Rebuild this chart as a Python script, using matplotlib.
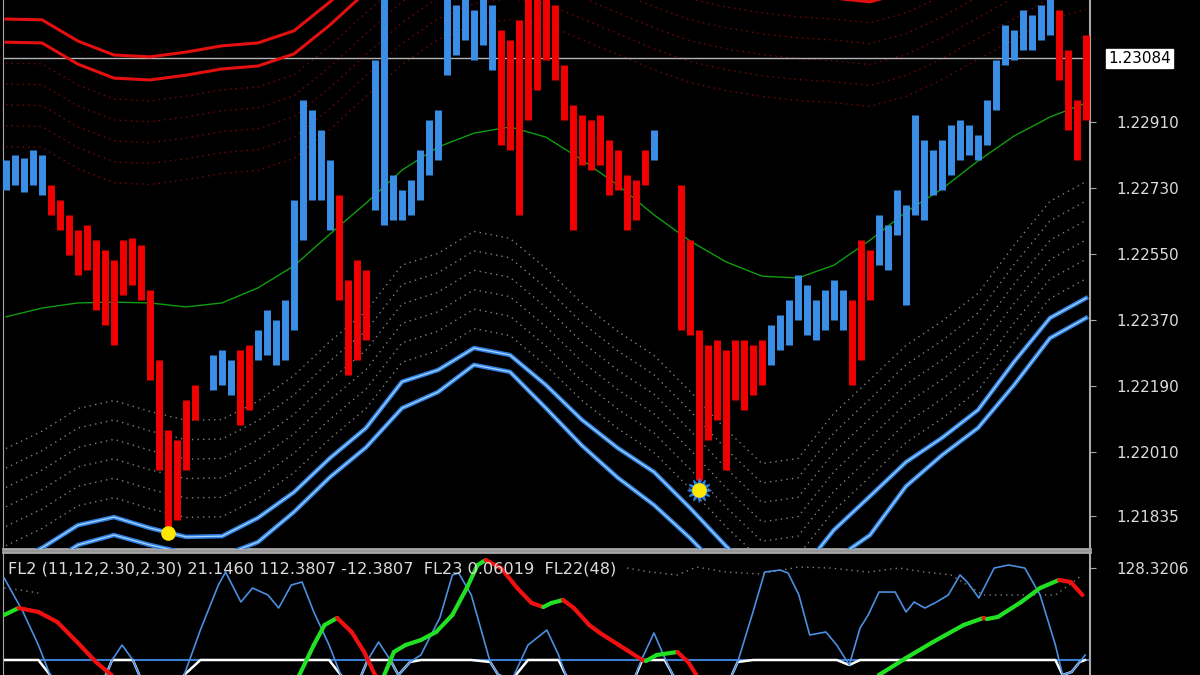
import matplotlib
matplotlib.use("Agg")
import matplotlib.pyplot as plt
import matplotlib.transforms as mtransforms
import numpy as np
from matplotlib.collections import LineCollection

nan = float("nan")

# price bars (bar index 0..120), nan = no bar
bar_high = [
    1.22807, 1.22820, 1.22812, 1.22834, 1.22820,
    1.22738, 1.22698, 1.22657, 1.22616, 1.22629, 1.22588, 1.22561, 1.22534, 1.22588, 1.22594,
    1.22575, 1.22452, 1.22261, 1.22070, 1.22043, 1.22152, 1.22193, nan,
    1.22275, 1.22289, 1.22261, 1.22289, 1.22302,
    1.22343, 1.22398, 1.22370, 1.22425, 1.22698, 1.22970, 1.22943, 1.22888, 1.22807,
    1.22711, 1.22479, 1.22534, 1.22507,
    1.23079, 1.23260, 1.22766, 1.22725, 1.22752, 1.22834, 1.22916, 1.22943, 1.23260, 1.23229,
    1.23260, 1.23216, 1.23260, 1.23229,
    1.23161, 1.23134, 1.23188, 1.23260, 1.23260, 1.23260, 1.23229, 1.23066, 1.22957, 1.22929,
    1.22916, 1.22929, 1.22861, 1.22834, 1.22766, 1.22752, 1.22834,
    1.22888, nan, nan,
    1.22738, 1.22588, 1.22343, 1.22302, 1.22316, 1.22289, 1.22316, 1.22316, 1.22302, 1.22316,
    1.22357, 1.22384, 1.22425, 1.22493, 1.22466, 1.22425, 1.22452, 1.22479, 1.22452,
    1.22425, 1.22588, 1.22561,
    1.22657, 1.22629, 1.22725, 1.22684, 1.22929, 1.22861, 1.22834, 1.22861, 1.22902, 1.22916,
    1.22902, 1.22875, 1.22970, 1.23079, 1.23175, 1.23161, 1.23216, 1.23202, 1.23229, 1.23260,
    1.23216, 1.23107, 1.22970, 1.23148,
]
bar_low = [
    1.22725, 1.22738, 1.22719, 1.22738, 1.22711,
    1.22657, 1.22616, 1.22547, 1.22493, 1.22507, 1.22398, 1.22357, 1.22302, 1.22438, 1.22466,
    1.22425, 1.22207, 1.21961, 1.21798, 1.21825, 1.21961, 1.22098, nan,
    1.22179, 1.22193, 1.22166, 1.22084, 1.22125,
    1.22261, 1.22275, 1.22248, 1.22261, 1.22343, 1.22588, 1.22698, 1.22698, 1.22616,
    1.22425, 1.22220, 1.22261, 1.22316,
    1.22670, 1.22629, 1.22643, 1.22643, 1.22657, 1.22698, 1.22766, 1.22807, 1.23038, 1.23093,
    1.23134, 1.23079, 1.23120, 1.23052,
    1.22848, 1.22834, 1.22657, 1.22916, 1.22998, 1.23079, 1.23025, 1.22916, 1.22616, 1.22793,
    1.22779, 1.22793, 1.22711, 1.22725, 1.22616, 1.22643, 1.22738,
    1.22807, nan, nan,
    1.22343, 1.22329, 1.21934, 1.22043, 1.22098, 1.21961, 1.22152, 1.22125, 1.22166, 1.22193,
    1.22248, 1.22289, 1.22302, 1.22370, 1.22329, 1.22316, 1.22343, 1.22370, 1.22343,
    1.22193, 1.22261, 1.22425,
    1.22520, 1.22507, 1.22602, 1.22411, 1.22657, 1.22643, 1.22711, 1.22725, 1.22766, 1.22807,
    1.22820, 1.22807, 1.22848, 1.22943, 1.23066, 1.23079, 1.23107, 1.23107, 1.23134, 1.23148,
    1.23025, 1.22888, 1.22807, 1.22916,
]
# u = up bar (blue), d = down bar (red)
bar_dir = ("uuuuu" "ddddddddddddddddd" "u" "uuu" "dd" "uuuuuuuuu" "dddd"
           "uuuuuuuuuuuuuu" "ddddddddddddddddd" "u" "uu" "dddddddddd"
           "uuuuuuuuu" "ddd" "uuuuuuuuuuuuuuuuuuuu" "dddd")

# envelope bands sampled every 4 bars
band_bar = [0, 4, 8, 12, 16, 20, 24, 28, 32, 36, 40, 44, 48, 52, 56, 60,
            64, 68, 72, 76, 80, 84, 88, 92, 96, 100, 104, 108, 112, 116, 120]
green_mid = [1.22379, 1.22403, 1.22417, 1.22419, 1.22417, 1.22406, 1.22417, 1.22458,
             1.22518, 1.22605, 1.22689, 1.22779, 1.22842, 1.22880, 1.22897, 1.22869,
             1.22807, 1.22738, 1.22657, 1.22586, 1.22529, 1.22490, 1.22485, 1.22520,
             1.22588, 1.22665, 1.22728, 1.22804, 1.22872, 1.22924, 1.22962]
red_inner = [1.23128, 1.23126, 1.23068, 1.23030, 1.23025, 1.23038, 1.23055, 1.23063,
             1.23096, 1.23175, 1.23265, 1.23352, 1.23420, 1.23461, 1.23475, 1.23461,
             1.23420, 1.23379, 1.23338, 1.23303, 1.23281, 1.23265, 1.23254, 1.23248,
             1.23238, 1.23265, 1.23311, 1.23366, 1.23420, 1.23475, 1.23502]
red_outer = [1.23191, 1.23189, 1.23131, 1.23093, 1.23088, 1.23101, 1.23118, 1.23126,
             1.23159, 1.23238, 1.23328, 1.23415, 1.23483, 1.23524, 1.23538, 1.23524,
             1.23483, 1.23442, 1.23401, 1.23366, 1.23344, 1.23328, 1.23317, 1.23311,
             1.23301, 1.23328, 1.23374, 1.23429, 1.23483, 1.23538, 1.23565]
blue_inner = [1.21702, 1.21749, 1.21811, 1.21833, 1.21803, 1.21779, 1.21781, 1.21831,
              1.21901, 1.21994, 1.22076, 1.22202, 1.22234, 1.22294, 1.22275, 1.22193,
              1.22098, 1.22021, 1.21956, 1.21858, 1.21754, 1.21661, 1.21675, 1.21798,
              1.21890, 1.21983, 1.22049, 1.22125, 1.22256, 1.22376, 1.22430]
blue_outer = [1.21648, 1.21694, 1.21757, 1.21784, 1.21757, 1.21735, 1.21727, 1.21765,
              1.21847, 1.21942, 1.22023, 1.22130, 1.22174, 1.22248, 1.22229, 1.22130,
              1.22028, 1.21940, 1.21866, 1.21776, 1.21675, 1.21607, 1.21607, 1.21716,
              1.21784, 1.21917, 1.22002, 1.22076, 1.22193, 1.22321, 1.22376]
red_levels = 5
red_step = 0.00057
grey_levels = 6
grey_step = 0.00053

signal_bar = [18, 77]
signal_price = [1.21790, 1.21907]

current_price = 1.23084
price_ticks = [1.22910, 1.22730, 1.22550, 1.22370, 1.22190, 1.22010, 1.21835]

# lower window
osc_bar = [-0.2, 1.9, 3.6, 4.9, 7.1, 10.4, 11.8, 12.9, 14.1, 16.0, 18.2, 19.8, 21.6, 23.6,
           24.4, 26.1, 27.4, 29.1, 30.3, 31.7, 32.9, 34.2, 35.9, 37.2, 38.8, 40.2, 41.4,
           42.7, 43.6, 44.9, 46.1, 48.2, 49.6, 50.3, 51.7, 53.8, 54.7, 56.2, 58.0, 60.1,
           61.4, 62.2, 66.0, 69.3, 70.7, 72.0, 73.2, 74.1, 77.1, 79.9, 81.3, 83.0, 84.3,
           86.0, 86.9, 88.1, 89.3, 91.1, 92.3, 93.7, 94.9, 95.8, 97.0, 98.8, 100.0, 100.9,
           102.1, 103.4, 104.7, 106.0, 106.8, 108.1, 109.8, 111.4, 113.2, 114.9, 116.6,
           117.4, 118.4, 119.3, 119.9]
osc_val = [114.4, 67.0, 20.9, -20.9, -55.8, -41.8, 0.0, 20.9, 0.0, -55.8, -55.8, -20.9,
           41.8, 104.6, 122.7, 80.9, 100.4, 90.7, 72.5, 104.6, 108.8, 67.0, 20.9, -20.9,
           -41.8, 0.0, 25.1, 0.0, -20.9, -2.8, 7.0, 58.6, 118.6, 121.3, 90.7, -2.8, -20.9,
           -27.9, 20.9, 41.8, 7.0, -20.9, -69.7, -41.8, 2.8, 37.7, 2.8, -20.9, -69.7,
           -41.8, -2.8, 67.0, 122.7, 125.5, 121.3, 90.7, 34.9, 39.1, 20.9, -7.0, 44.6,
           62.8, 94.8, 94.8, 67.0, 80.9, 72.5, 80.9, 90.7, 118.6, 108.8, 86.5, 128.3,
           132.5, 128.3, 90.7, 20.9, -20.9, -16.7, -2.8, 7.0]
sig_bar = [-0.2, 1.4, 3.6, 5.7, 7.9, 10.0, 11.7, 13.8, 30.4, 32.6, 34.2, 35.4, 36.8, 38.4,
           39.8, 41.0, 41.7, 43.1, 44.4, 46.1, 47.8, 49.6, 51.2, 52.4, 53.3, 55.0, 56.8,
           58.4, 59.7, 60.6, 61.9, 63.1, 64.8, 66.0, 68.1, 70.7, 71.1, 72.3, 74.6, 75.8,
           76.7, 79.3, 94.9, 97.0, 100.0, 103.0, 106.4, 108.6, 109.0, 110.2, 112.8, 114.9,
           117.0, 118.3, 119.6]
sig_val = [62.8, 72.5, 67.0, 53.0, 25.1, -2.8, -20.9, -55.8, -62.8, -20.9, 20.9, 48.8,
           58.6, 39.1, 11.2, -20.9, -30.7, 11.2, 20.9, 27.9, 39.1, 62.8, 100.4, 132.5,
           139.5, 128.3, 100.4, 79.5, 73.9, 79.5, 83.7, 72.5, 48.8, 37.7, 20.9, 0.0, -1.4,
           7.0, 11.2, -2.8, -20.9, -69.7, -76.7, -20.9, 2.8, 25.1, 48.8, 58.6, 57.2, 60.0,
           80.9, 100.4, 111.6, 108.8, 90.7]
dots_left_bar = [-0.2, 1.6, 3.6]
dots_left_val = [100.4, 97.6, 93.5]
dots_right_bar = [69.0, 71.6, 74.6, 76.7, 80.0, 83.8, 88.1, 91.6, 95.8, 99.2, 102.1,
                  105.0, 108.6, 112.7, 116.6, 119.6]
dots_right_val = [128.3, 122.7, 118.6, 129.7, 122.7, 120.0, 129.7, 128.3, 122.7, 128.3,
                  122.7, 118.6, 90.7, 90.7, 90.7, 118.6]
osc_level = 0.0
osc_label = 128.3206
osc_title = "FL2 (11,12,2.30,2.30) 21.1460 112.3807 -12.3807  FL23 0.06019  FL22(48)"

GRID = "#a8a8a8"
TXT = "#dcdcdc"

fig = plt.figure(figsize=(12, 6.75), dpi=100, facecolor="black")
ax = fig.add_axes([0.0025, 0.18667, 0.9058, 0.81333], facecolor="black")
ax2 = fig.add_axes([0.0025, 0.0, 0.9058, 0.18222], facecolor="black")

xlim = (-0.33, 120.44)

# main price window
hi = np.array(bar_high)
lo = np.array(bar_low)
idx = np.arange(len(hi))
up = np.array([c == "u" for c in bar_dir]) & ~np.isnan(hi)
dn = np.array([c == "d" for c in bar_dir]) & ~np.isnan(hi)

band_x = np.array(band_bar)
red_in = np.array(red_inner)
blue_in = np.array(blue_inner)
dotted = (0, (1, 3))
for k in range(1, red_levels + 1):
    ax.plot(band_x, red_in - k * red_step, color="#7a0808", lw=1, ls=dotted, zorder=1)
for k in range(1, grey_levels + 1):
    ax.plot(band_x, blue_in + k * grey_step, color="#808080", lw=1, ls=dotted, zorder=1)

ax.axhline(current_price, color="#b4b4b4", lw=1, zorder=1.5)
ax.plot(band_x, green_mid, color="#109c10", lw=1, zorder=2)

ax.vlines(idx[up], lo[up], hi[up], colors="#3a8ee6", lw=5, zorder=3)
ax.vlines(idx[dn], lo[dn], hi[dn], colors="#f00000", lw=5, zorder=3)

for band in (red_inner, red_outer):
    ax.plot(band_x, band, color="#e41010", lw=2.2, zorder=4, solid_joinstyle="round")
for band in (blue_inner, blue_outer):
    ax.plot(band_x, band, color="#2f80e0", lw=3.2, zorder=4, solid_joinstyle="round")
    ax.plot(band_x, band, color="#a8d4ff", lw=0.9, zorder=4)

ax.plot(signal_bar[1], signal_price[1], marker=(12, 1, 0), color="#2f7fe0", ms=17, zorder=5)
ax.plot(signal_bar, signal_price, "o", color="#ffe800", ms=9.5, zorder=6)

ax.set_xlim(*xlim)
ax.set_ylim(1.21746, 1.23243)
ax.set_xticks([])
ax.yaxis.tick_right()
ax.set_yticks(price_ticks)
ax.set_yticklabels([f"{p:.5f}" for p in price_ticks])
ax.tick_params(axis="y", colors=GRID, labelcolor=TXT, labelsize=11, length=4, pad=15)

trans = mtransforms.blended_transform_factory(ax.transAxes, ax.transData)
ax.text(1.0166, current_price, f"{current_price:.5f}", transform=trans, ha="left",
        va="center", color="black", fontsize=11,
        bbox=dict(facecolor="white", edgecolor="white", boxstyle="square,pad=0.15"))

ax.spines["top"].set_visible(False)
ax.spines["left"].set_color(GRID)
ax.spines["right"].set_color(GRID)
ax.spines["right"].set_linewidth(1.5)
ax.spines["bottom"].set_color(GRID)
ax.spines["bottom"].set_linewidth(2)

# lower indicator window
ax2.axhline(osc_level, color="#3a7fd5", lw=1.5, zorder=1)
ax2.plot(dots_left_bar, dots_left_val, color="#808080", lw=1, ls=dotted, zorder=1)
ax2.plot(dots_right_bar, dots_right_val, color="#808080", lw=1, ls=dotted, zorder=1)

osc = np.array(osc_val)
ax2.plot(osc_bar, np.minimum(osc, osc_level), color="white", lw=1.8, zorder=2)
ax2.plot(osc_bar, osc, color="#4a8fe0", lw=1.2, zorder=3)

sx = np.array(sig_bar)
sy = np.array(sig_val)
segs = np.stack([np.column_stack([sx[:-1], sy[:-1]]), np.column_stack([sx[1:], sy[1:]])], axis=1)
seg_colors = ["#22e022" if b > a else "#f01010" for a, b in zip(sy[:-1], sy[1:])]
ax2.add_collection(LineCollection(segs, colors=seg_colors, linewidths=3, zorder=4,
                                  capstyle="round"))

ax2.text(0.0046, 0.862, osc_title, transform=ax2.transAxes, ha="left", va="center",
         color=TXT, fontsize=11.6, zorder=6)

ax2.set_xlim(*xlim)
ax2.set_ylim(-20.92, 150.64)
ax2.set_xticks([])
ax2.yaxis.tick_right()
ax2.set_yticks([osc_label])
ax2.set_yticklabels([f"{osc_label:.4f}"])
ax2.tick_params(axis="y", colors=GRID, labelcolor=TXT, labelsize=11, length=4, pad=15)
ax2.spines["bottom"].set_visible(False)
for s in ("top", "left", "right"):
    ax2.spines[s].set_color(GRID)
ax2.spines["top"].set_linewidth(2)
ax2.spines["right"].set_linewidth(1.5)

fig.savefig("out.png", dpi=100, facecolor="black")
